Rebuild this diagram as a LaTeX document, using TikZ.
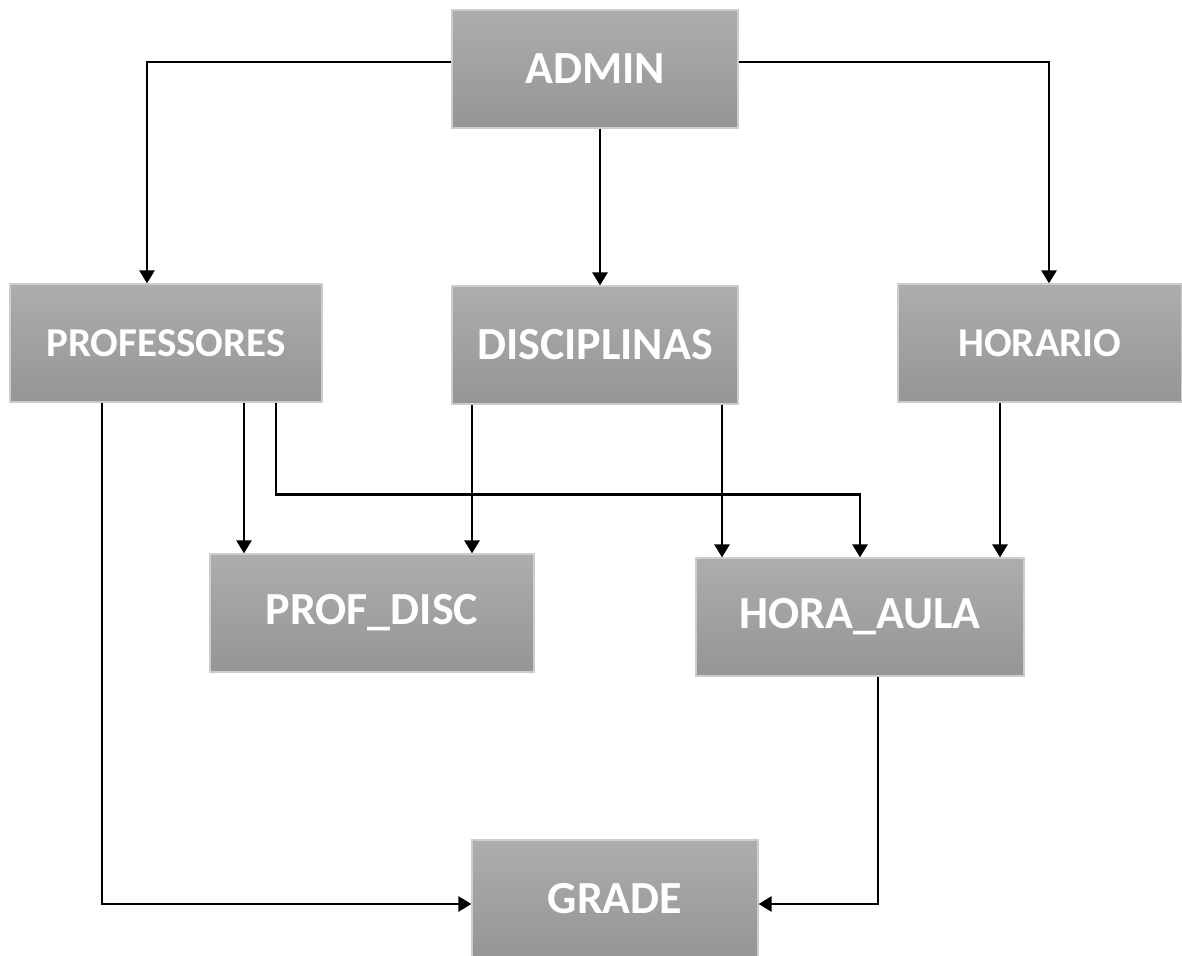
\documentclass[tikz,border=0pt]{standalone}
\usepackage{fontspec}
\setmainfont{Carlito}
\usetikzlibrary{arrows.meta}
\usetikzlibrary{calc}
\tikzset{entity/.style = {draw=boxline, line width=0.6pt, top color=boxtop, bottom color=boxbot,
                          text=white, font=\bfseries\fontsize{23}{28}\selectfont,
                          minimum width=143pt, minimum height=59pt, inner sep=0pt},
         smalltext/.style = {font=\bfseries\fontsize{20.5}{25}\selectfont},
         link/.style = {line width=1.3pt, -{Triangle[length=6.5pt,width=7.5pt]}}}
\definecolor{boxtop}{RGB}{173,173,173}
\definecolor{boxbot}{RGB}{149,149,149}
\definecolor{boxline}{RGB}{205,205,205}

\begin{document}
\begin{tikzpicture}[x=0.5pt, y=-0.5pt]
      \useasboundingbox (0,0) rectangle (1182,956);

      \node [entity] (admin) at (595,69) {ADMIN};
      \node [entity, smalltext, minimum width=156pt] (prof) at (166,343) {PROFESSORES};
      \node [entity] (disc) at (595,345) {DISCIPLINAS};
      \node [entity, smalltext, minimum width=142pt] (horario) at (1040,343) {HORARIO};
      \node [entity, minimum width=162pt] (profdisc) at (372,613) {PROF\_DISC};
      \node [entity, minimum width=164pt] (horaaula) at (860,617) {HORA\_AULA};
      \node [entity] (grade) at (615,899) {GRADE};

      \draw [link] ($(admin.west)+(0,-7)$) -| ($(prof.north)+(-19,0)$);
      \draw [link] ($(admin.south)+(5,0)$) -- ($(disc.north)+(5,0)$);
      \draw [link] ($(admin.east)+(0,-7)$) -| ($(horario.north)+(9,0)$);

      \draw [link] ($(prof.south)+(-64,0)$) |- ($(grade.west)+(0,5)$);
      \draw [link] ($(prof.south)+(78,0)$) -- ($(profdisc.north)+(-128,0)$);
      \draw [link] ($(prof.south)+(110,0)$) -- ++(0,92) -| (horaaula.north);

      \draw [link] ($(disc.south)+(-123,0)$) -- ($(profdisc.north)+(100,0)$);
      \draw [link] ($(disc.south)+(127,0)$) -- ($(horaaula.north)+(-138,0)$);
      \draw [link] ($(horario.south)+(-40,0)$) -- ($(horaaula.north)+(140,0)$);

      \draw [link] ($(horaaula.south)+(18,0)$) |- ($(grade.east)+(0,5)$);
    \end{tikzpicture}
\end{document}
